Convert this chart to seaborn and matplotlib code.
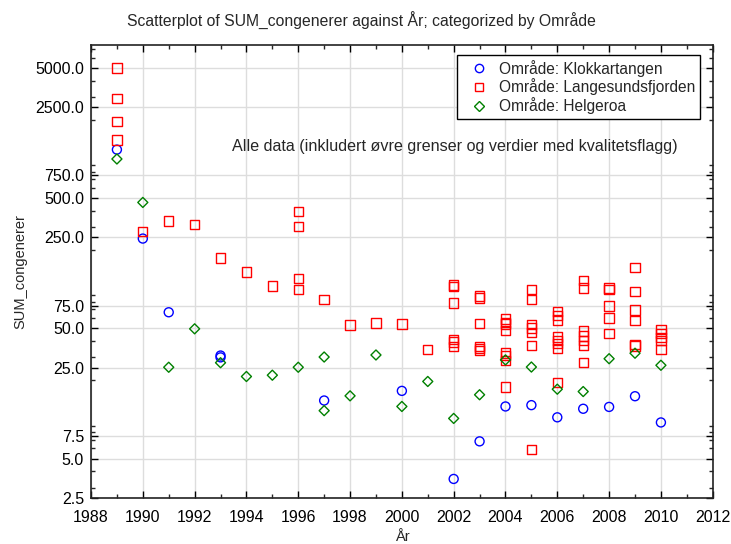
import pandas as pd
import numpy as np
import seaborn as sns
import matplotlib.pyplot as plt
from matplotlib.lines import Line2D
from matplotlib.ticker import FixedLocator, FixedFormatter, LogLocator, NullFormatter, MultipleLocator

# Data
years_k = [1989, 1990, 1991, 1993, 1993, 1997, 2000, 2002, 2003, 2004, 2005, 2006, 2007, 2008, 2009, 2010]
vals_k = [1180, 245, 66.6, 30, 31, 14.0, 16.6, 3.5, 6.8, 12.6, 12.9, 10.4, 12.1, 12.5, 15.1, 9.5]

years_l = ([1989] * 4 + [1990, 1991, 1992, 1993, 1994, 1995] + [1996] * 4
           + [1997, 1998, 1999, 2000, 2001] + [2002] * 6 + [2003] * 6 + [2004] * 8
           + [2005] * 7 + [2006] * 8 + [2007] * 7 + [2008] * 5 + [2009] * 6 + [2010] * 5)
vals_l = [5000, 2900, 1950, 1400,
          276, 335, 316, 174, 136, 106,
          397, 303, 121, 100,
          83.6, 53.2, 55.2, 54, 34.6,
          108, 104.5, 78.3, 41.4, 39.3, 36.2,
          88.6, 85.5, 54.6, 36.5, 35, 34,
          59.2, 55.9, 54, 48.3, 32.4, 30.9, 28.3, 17.8,
          100, 83.6, 53.7, 50.3, 46.4, 36.8, 5.87,
          67.4, 62.8, 58.2, 42.9, 40.5, 38.2, 35.2, 19.2,
          116.7, 102, 47.7, 43.7, 40.5, 37.1, 27.3,
          102, 100, 74.3, 60.2, 46,
          147.5, 95.7, 69.3, 57.8, 37.9, 36.6,
          49.1, 45.5, 42.4, 40.5, 34.6]

years_h = [1989, 1990, 1991, 1992, 1993, 1994, 1995, 1996, 1997, 1997, 1998, 1999,
           2000, 2001, 2002, 2003, 2004, 2005, 2006, 2007, 2008, 2009, 2010]
vals_h = [1000, 464, 25.2, 49.7, 27.3, 21.4, 21.9, 25.2, 30.2, 11.7, 15.2, 31.3,
          12.6, 19.6, 10.2, 15.5, 28.7, 25.3, 17.1, 16.4, 29.3, 32.3, 26.1]

areas = ["Klokkartangen", "Langesundsfjorden", "Helgeroa"]
colors = ["#0000ff", "#ff0000", "#008000"]
markers = ["o", "s", "D"]
sizes = [42, 45, 26]

y_ticks = [2.5, 5.0, 7.5, 25.0, 50.0, 75.0, 250.0, 500.0, 750.0, 2500.0, 5000.0]

df = pd.concat([
    pd.DataFrame({"År": years_k, "SUM_congenerer": vals_k, "Område": areas[0]}),
    pd.DataFrame({"År": years_l, "SUM_congenerer": vals_l, "Område": areas[1]}),
    pd.DataFrame({"År": years_h, "SUM_congenerer": vals_h, "Område": areas[2]}),
])

sns.set_style("white")
plt.rcParams["font.family"] = ["Liberation Sans", "DejaVu Sans"]

fig = plt.figure(figsize=(7.31, 5.44), dpi=100)
ax = fig.add_axes([0.1245, 0.0846, 0.8505, 0.8327])

for area, c, m, s in zip(areas, colors, markers, sizes):
    sub = df[df["Område"] == area]
    sns.scatterplot(data=sub, x="År", y="SUM_congenerer", marker=m, s=s,
                    facecolor="none", edgecolor=c, linewidth=1.0, ax=ax, zorder=3)

ax.set_yscale("log")
ax.set_ylim(2.5, 7500)
ax.set_xlim(1988, 2012)

ax.yaxis.set_major_locator(FixedLocator(y_ticks))
ax.yaxis.set_major_formatter(FixedFormatter([f"{v:.1f}" for v in y_ticks]))
ax.yaxis.set_minor_locator(LogLocator(base=10, subs=np.arange(2, 10), numticks=20))
ax.yaxis.set_minor_formatter(NullFormatter())
ax.xaxis.set_major_locator(MultipleLocator(2))
ax.xaxis.set_minor_locator(MultipleLocator(1))

ax.grid(True, which="major", color="#dddddd", linewidth=1.0, zorder=0)
ax.set_axisbelow(True)
for sp in ax.spines.values():
    sp.set_color("#222222")
    sp.set_linewidth(1.2)

ax.tick_params(axis="x", which="major", pad=9)
ax.tick_params(axis="y", which="major", pad=5)
ax.tick_params(axis="both", which="major", direction="in", length=5, width=1,
               labelsize=11.5, right=True, left=True, bottom=True, top=True,
               colors="black")
ax.tick_params(axis="both", which="minor", direction="in", length=3, width=1,
               right=True, left=True, bottom=True, top=True)

ax.set_xlabel("År", fontsize=10.5, labelpad=3)
ax.set_ylabel("SUM_congenerer", fontsize=10.5, labelpad=6)

fig.suptitle("Scatterplot of SUM_congenerer against År; categorized by Område",
             x=0.495, y=0.962, va="center", fontsize=11.3)

ax.text(0.585, 0.776, "Alle data (inkludert øvre grenser og verdier med kvalitetsflagg)",
        transform=ax.transAxes, ha="center", va="center", fontsize=11.6)

handles = [Line2D([], [], linestyle="none", marker=m, markersize=ms, markerfacecolor="none",
                  markeredgecolor=c, markeredgewidth=1.0)
           for c, m, ms in zip(colors, markers, [6, 6, 5])]
leg = ax.legend(handles, [f"Område: {a}" for a in areas], loc="upper right",
                bbox_to_anchor=(0.980, 0.978), borderaxespad=0, fontsize=11.2,
                frameon=True, fancybox=False, framealpha=1, edgecolor="black",
                handletextpad=0.2, borderpad=0.3, labelspacing=0.12, handlelength=2.2)
leg.get_frame().set_linewidth(1.0)

fig.savefig("out.png", dpi=100)
